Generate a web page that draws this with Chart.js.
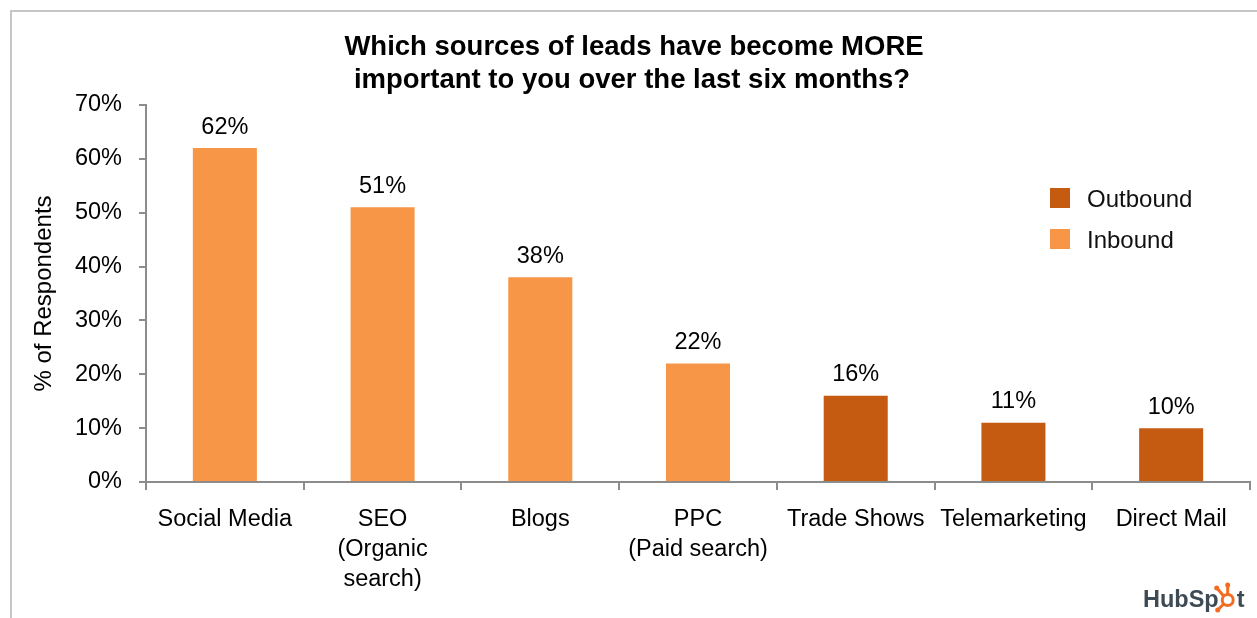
<!DOCTYPE html>
<html>
<head>
<meta charset="utf-8">
<script src="https://cdn.jsdelivr.net/npm/chart.js@4/dist/chart.umd.min.js"></script>
<style>
    html, body { margin: 0; padding: 0; background: #fff; }
    #wrap { position: relative; width: 1257px; height: 618px; }
    #frame { position: absolute; left: 10px; top: 10px; right: 0; bottom: 0;
             border-top: 2px solid #c6c6c6; border-left: 2px solid #c6c6c6; }
    canvas { position: absolute; left: 0; top: 0; }
</style>
</head>
<body>
<div id="wrap">
    <div id="frame"></div>
    <canvas id="chartRef" width="1257" height="618"></canvas>
</div>
<script>
const titleLines = ["Which sources of leads have become MORE", "important to you over the last six months?"];
const categories = [
    "Social Media",
    ["SEO", "(Organic", "search)"],
    "Blogs",
    ["PPC", "(Paid search)"],
    "Trade Shows",
    "Telemarketing",
    "Direct Mail"
];
const values = [62, 51, 38, 22, 16, 11, 10];
const sourceType = ["Inbound", "Inbound", "Inbound", "Inbound", "Outbound", "Outbound", "Outbound"];
const legendLabels = ["Outbound", "Inbound"];
const yTicks = [0, 10, 20, 30, 40, 50, 60, 70];

const colors = { Outbound: "#c55a11", Inbound: "#f79646" };
const axisGrey = "#8c8c8c";
const FONT = "'Liberation Sans', Arial, sans-serif";

// value labels, title, legend and logo
const extras = {
    id: "extras",
    afterDatasetsDraw(chart) {
        const ctx = chart.ctx;
        const meta = chart.getDatasetMeta(0);
        ctx.save();
        ctx.fillStyle = "#000";
        ctx.font = "23.5px " + FONT;
        ctx.textAlign = "center";
        ctx.textBaseline = "middle";
        meta.data.forEach((bar, i) => {
            ctx.fillText(values[i] + "%", bar.x, bar.y - 21);
        });

        // title
        ctx.font = "bold 27.5px " + FONT;
        ctx.fillText(titleLines[0], 634, 47);
        ctx.fillText(titleLines[1], 632, 80);

        // legend
        ctx.textAlign = "left";
        ctx.font = "24px " + FONT;
        legendLabels.forEach((lbl, i) => {
            const y = 198 + i * 41;
            ctx.fillStyle = colors[lbl];
            ctx.fillRect(1050, y - 10, 20, 20);
            ctx.fillStyle = "#111";
            ctx.fillText(lbl, 1087, y + 2);
        });

        // HubSpot logo
        ctx.font = "bold 23.5px " + FONT;
        ctx.fillStyle = "#3e4a54";
        ctx.textBaseline = "alphabetic";
        const hx = 1143, hy = 607;
        ctx.fillText("HubSp", hx, hy);
        const w = ctx.measureText("HubSp").width;
        const cx = hx + w + 9, cy = hy - 7;
        ctx.strokeStyle = "#f26c23";
        ctx.fillStyle = "#f26c23";
        ctx.lineWidth = 3;
        ctx.beginPath();
        ctx.arc(cx, cy, 5.5, 0, Math.PI * 2);
        ctx.stroke();
        ctx.beginPath();
        ctx.moveTo(cx, cy - 5); ctx.lineTo(cx, cy - 14);
        ctx.moveTo(cx - 4, cy - 4); ctx.lineTo(cx - 10, cy - 11);
        ctx.moveTo(cx - 4, cy + 4); ctx.lineTo(cx - 9, cy + 9);
        ctx.stroke();
        ctx.beginPath(); ctx.arc(cx, cy - 15, 2.5, 0, Math.PI * 2); ctx.fill();
        ctx.beginPath(); ctx.arc(cx - 11, cy - 12, 2.5, 0, Math.PI * 2); ctx.fill();
        ctx.beginPath(); ctx.arc(cx - 10, cy + 10, 2.5, 0, Math.PI * 2); ctx.fill();
        ctx.fillStyle = "#3e4a54";
        ctx.fillText("t", cx + 9, hy);
        ctx.restore();
    }
};

const ctx = document.getElementById("chartRef").getContext("2d");
const chartInstance = new Chart(ctx, {
    type: "bar",
    data: {
        labels: categories,
        datasets: [{
            data: values,
            backgroundColor: sourceType.map(t => colors[t]),
            borderWidth: 0,
            barPercentage: 0.406,
            categoryPercentage: 1
        }]
    },
    options: {
        responsive: false,
        animation: false,
        layout: { padding: { left: 0, top: 105, right: 7, bottom: 0 } },
        plugins: {
            legend: { display: false },
            title: { display: false },
            tooltip: { enabled: false }
        },
        scales: {
            x: {
                grid: {
                    offset: true,
                    drawOnChartArea: false,
                    drawTicks: true,
                    tickLength: 8,
                    color: axisGrey,
                    lineWidth: 2
                },
                border: { display: true, color: axisGrey, width: 2 },
                ticks: {
                    color: "#000",
                    font: { family: FONT, size: 23.5, lineHeight: 1.26 },
                    padding: 15,
                    maxRotation: 0,
                    autoSkip: false
                },
                afterFit: (scale) => { scale.height = 136; }
            },
            y: {
                min: 0,
                max: 70,
                afterBuildTicks: (scale) => { scale.ticks = yTicks.map(v => ({ value: v })); },
                grid: {
                    drawOnChartArea: false,
                    drawTicks: true,
                    tickLength: 7,
                    color: axisGrey,
                    lineWidth: 2
                },
                border: { display: true, color: axisGrey, width: 2 },
                ticks: {
                    color: "#000",
                    font: { family: FONT, size: 23.5 },
                    padding: 17,
                    callback: (v) => v + "%"
                },
                title: {
                    display: true,
                    text: "% of Respondents",
                    color: "#000",
                    font: { family: FONT, size: 24 },
                    padding: { top: 30, bottom: 0 }
                },
                afterFit: (scale) => { scale.width = 146; }
            }
        }
    },
    plugins: [extras]
});
</script>
</body>
</html>
